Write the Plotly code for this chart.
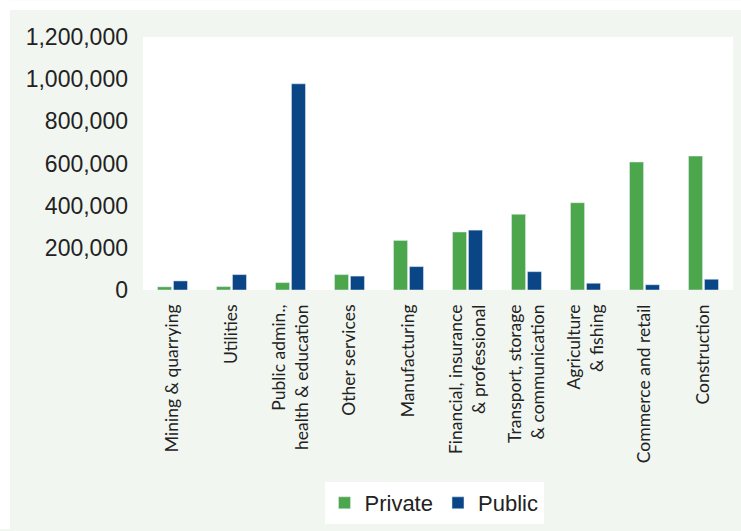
import plotly.graph_objects as go

# Employment by sector, split into private and public employers
sectors = [
    "Mining & quarrying",
    "Utilities",
    "Public admin.,<br>health & education",
    "Other services",
    "Manufacturing",
    "Financial, insurance<br>& professional",
    "Transport, storage<br>& communication",
    "Agriculture<br>& fishing",
    "Commerce and retail",
    "Construction",
]
private_jobs = [15000, 16000, 35000, 73000, 235000, 275000, 359000, 414000, 607000, 635000]
public_jobs = [43000, 73000, 978000, 66000, 111000, 284000, 87000, 32000, 25000, 51000]

y_ticks = [0, 200000, 400000, 600000, 800000, 1000000, 1200000]

GREEN = "#4ca64c"
BLUE = "#0a4686"
PANEL = "#f1f6f0"
TEXT = "#222222"

fig = go.Figure()
fig.add_trace(go.Bar(name="Private", x=sectors, y=private_jobs, marker_color=GREEN))
fig.add_trace(go.Bar(name="Public", x=sectors, y=public_jobs, marker_color=BLUE))

W, H = 741, 531
ml, mr, mt, mb = 143, 8, 37, 240
pw, ph = W - ml - mr, H - mt - mb

def px_x(px):
    return (px - ml) / pw

def px_y(py):
    return (H - mb - py) / ph

fig.update_layout(
    width=W,
    height=H,
    margin=dict(l=ml, r=mr, t=mt, b=mb, pad=0),
    paper_bgcolor=PANEL,
    plot_bgcolor="white",
    barmode="group",
    bargap=0.46,
    bargroupgap=0.12,
    font=dict(family="Liberation Sans, Arial, sans-serif", color=TEXT, size=22),
    showlegend=True,
    legend=dict(
        orientation="h",
        x=px_x(434),
        xanchor="center",
        y=px_y(482),
        yanchor="top",
        bgcolor="white",
        font=dict(size=22, color=TEXT),
        itemwidth=30,
        traceorder="normal",
    ),
    shapes=[
        # white page strip above and left of the panel
        dict(type="rect", xref="paper", yref="paper",
             x0=px_x(0), x1=px_x(W), y0=px_y(10), y1=px_y(0),
             fillcolor="white", line_width=0, layer="above"),
        dict(type="rect", xref="paper", yref="paper",
             x0=px_x(0), x1=px_x(10), y0=px_y(H), y1=px_y(0),
             fillcolor="white", line_width=0, layer="above"),
    ],
)

fig.update_xaxes(
    tickangle=-90,
    tickfont=dict(family="Lato, Liberation Sans, sans-serif", size=17.5, color=TEXT),
    showgrid=False,
    showline=False,
    ticks="",
    ticklabelstandoff=10,
)
fig.update_yaxes(
    range=[0, 1200000],
    tickvals=y_ticks,
    tickformat=",d",
    tickfont=dict(size=23, color=TEXT),
    showgrid=False,
    showline=False,
    zeroline=False,
    ticks="",
    ticklabelstandoff=14,
)

fig.write_html("out.html")
